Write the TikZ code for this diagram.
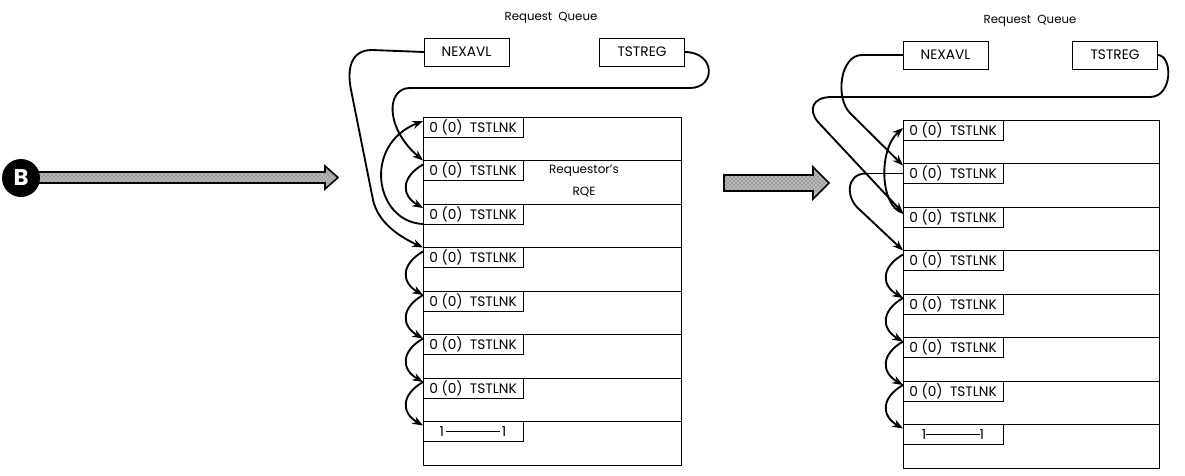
\documentclass[tikz,border=0pt]{standalone}
\usepackage{fontspec}
\setmainfont{Poppins}
\usetikzlibrary{arrows.meta, positioning, patterns}

\begin{document}
\begin{tikzpicture}[
  x=0.75pt, y=0.75pt,
  font=\fontsize{10.3}{12}\selectfont,
  row/.style={draw, line width=0.7pt, minimum width=193.5pt,
              minimum height=32.625pt, inner sep=0pt, outer sep=0pt},
  rrow/.style={row, minimum width=192pt},
  tag/.style={draw, line width=0.7pt, minimum width=75pt,
              minimum height=15pt, inner sep=0pt, outer sep=0pt},
  regbox/.style={draw, line width=0.7pt, minimum width=63.75pt,
                 minimum height=21pt, inner sep=0pt, outer sep=0pt},
  link/.style={-{Stealth[length=8pt,width=6pt]}, line width=1.4pt},
  chain/.style={link, out=210, in=150, looseness=1.5},
  bigarrow/.style={draw=black, line width=1.2pt, fill=gray!55,
                   postaction={pattern=crosshatch dots, pattern color=black!75}},
  title/.style={font=\fontsize{8.8}{10}\selectfont}
]
\useasboundingbox (0,0) rectangle (1185,-475);

% entry arrows
\draw[bigarrow] (30,-172) -- (325,-172) -- (325,-166) -- (338,-177.5)
  -- (325,-189) -- (325,-183) -- (30,-183) -- cycle;
\node[circle, fill=black, minimum size=28.5pt, inner sep=0pt, text=white,
      font=\bfseries\fontsize{17}{17}\selectfont] (Bmark) at (21,-178) {B};
\draw[bigarrow] (724,-175) -- (813,-175) -- (813,-167) -- (829,-183)
  -- (813,-199) -- (813,-191) -- (724,-191) -- cycle;

% left queue
\node[title] (Lqt) at (551,-18) {Request\ \ Queue};
\node[regbox] (Lnex) at (466.5,-52) {NEXAVL};
\node[regbox] (Lreg) at (642,-52) {TSTREG};
\foreach \i in {1,...,8}
  \node[row, anchor=north west] (Lr\i) at (423,{-117-43.5*(\i-1)}) {};
\foreach \i in {1,...,7}
  \node[tag, anchor=north west] (Lt\i) at (Lr\i.north west) {0 (0)~~TSTLNK};
\node[tag, anchor=north west] (Lt8) at (Lr8.north west)
  {1\,\rule[0.6ex]{40pt}{0.5pt}\,1};
\node[align=center, font=\fontsize{9}{16}\selectfont] (Lrqe) at (584,-181)
  {Requestor's\\RQE};

\draw[link] (Lreg.east) .. controls (716,-52) and (716,-88) .. (690,-88)
  -- (410,-88) .. controls (386,-88) and (385,-128) .. (Lr2.north west);
\draw[link] (Lnex.west) -- (372,-50) .. controls (350,-50) and (347,-70) .. (351,-90)
  -- (373,-200) .. controls (378,-222) and (398,-236) .. (Lr4.north west);
\draw[link] (Lt3.south west) .. controls (375,-222) and (362,-145)
  .. ([yshift=-3pt]Lt1.north west);
\draw[chain] ([yshift=-3pt]Lt2.north west) to ([yshift=-3pt]Lt3.north west);
\foreach \i/\j in {4/5,5/6,6/7,7/8}
  \draw[chain] ([yshift=-3pt]Lt\i.north west) to ([yshift=-3pt]Lt\j.north west);

% right queue
\node[title] (Rqt) at (1030,-21) {Request\ \ Queue};
\node[regbox] (Rnex) at (945.5,-55) {NEXAVL};
\node[regbox] (Rreg) at (1115,-55) {TSTREG};
\foreach \i in {1,...,8}
  \node[rrow, anchor=north west] (Rr\i) at (903,{-120-43.5*(\i-1)}) {};
\foreach \i in {1,...,7}
  \node[tag, anchor=north west] (Rt\i) at (Rr\i.north west) {0 (0)~~TSTLNK};
\node[tag, anchor=north west] (Rt8) at (Rr8.north west)
  {1\rule[0.6ex]{40pt}{0.5pt}1};

\draw[link] (Rreg.east) .. controls (1173,-55) and (1173,-97) .. (1150,-97)
  -- (832,-97) .. controls (812,-97) and (808,-110) .. (818,-122)
  -- ([yshift=-4.5pt]Rt3.north west);
\draw[link] (Rnex.west) -- (862,-55) .. controls (840,-55) and (835,-98) .. (850,-113)
  -- ([yshift=-1.5pt]Rt2.north west);
\coordinate (Rbend) at (866,-173.5);
\draw[line width=0.5pt] (Rt2.west) -- (Rbend);
\draw[link] (Rbend) .. controls (846,-173.5) and (845,-198) .. (860,-210)
  -- (Rr4.north west);
\draw[link] ([yshift=-4.5pt]Rt3.north west) .. controls (880,-207) and (878,-150)
  .. ([yshift=-6pt]Rt1.north west);
\foreach \i/\j in {4/5,5/6,6/7,7/8}
  \draw[chain] ([yshift=-3pt]Rt\i.north west) to ([yshift=-3pt]Rt\j.north west);
\end{tikzpicture}
\end{document}
